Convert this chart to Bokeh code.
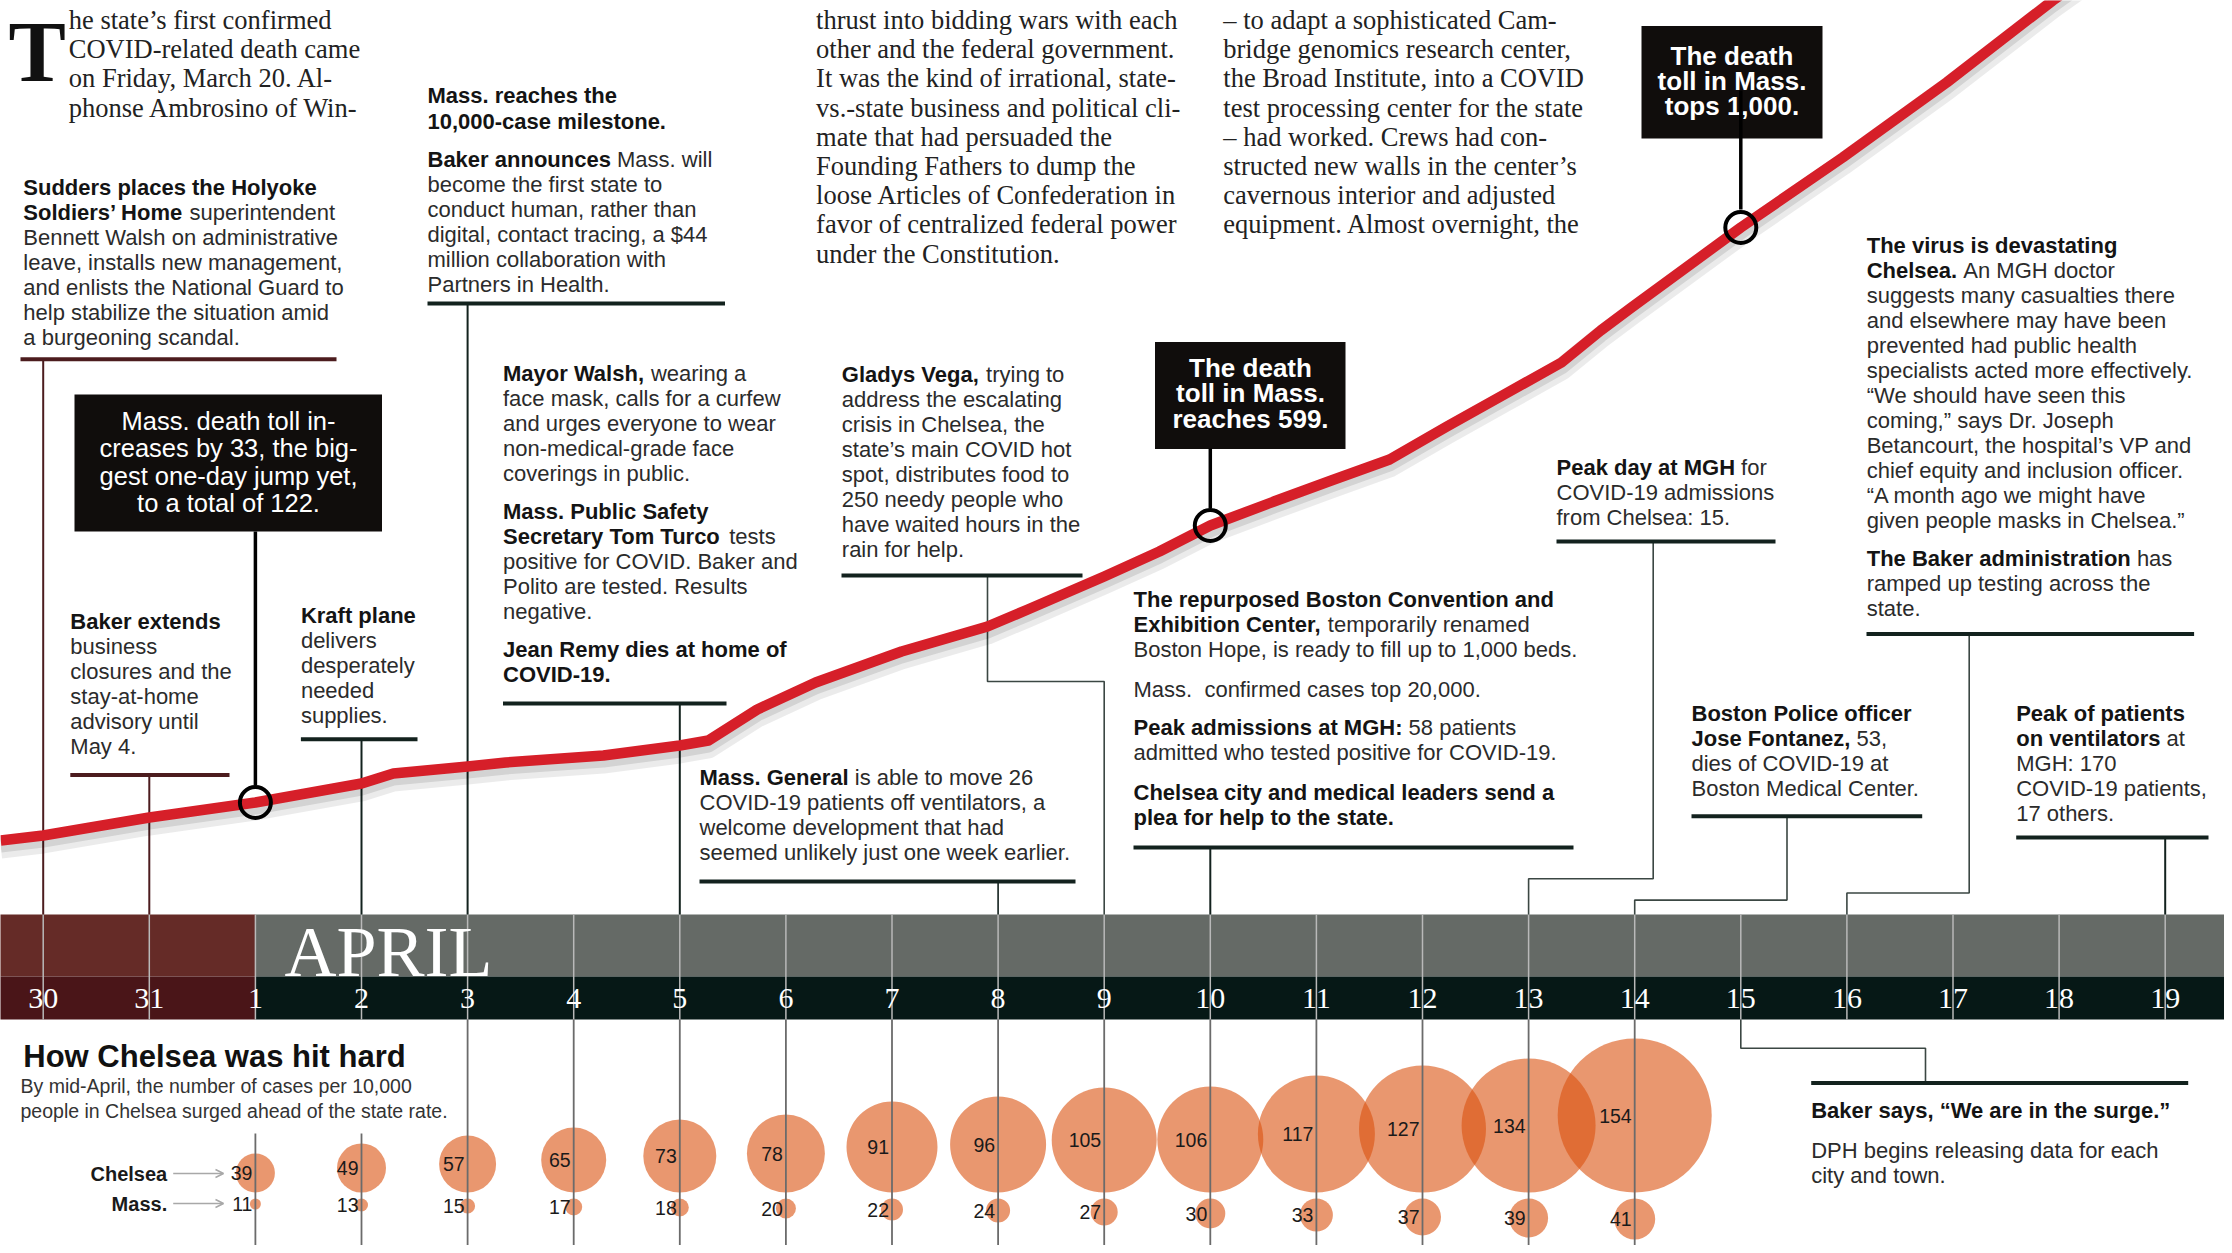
from collections import defaultdict
from bokeh.plotting import figure
from bokeh.models import Range1d, Arrow, OpenHead, ColumnDataSource
from bokeh.core.properties import value
from bokeh.embed import file_html
from bokeh.resources import INLINE

# ---------------- data ----------------
day_labels = ["30", "31"] + [str(i) for i in range(1, 20)]   # index 0 = March 30
day_index = list(range(len(day_labels)))
month_label = "APRIL"
april_start = 2

# red curve (Mass. toll trend): day index / height above the date band
line_day = [-0.4, 0, 1, 2, 3, 3.3, 4, 4.36, 5.28, 6, 6.27, 6.73, 7.28, 8.09, 8.9, 9.28, 10,
            10.52, 11, 11.6, 12.14, 12.69, 13.23, 13.77, 14.31, 14.68, 14.97, 16, 16.96,
            17.94, 18.94, 19.63]
line_level = [74, 79, 97, 112, 131, 141, 148, 152, 159, 169, 174, 205, 232, 263, 288, 305, 338,
              363, 389, 413, 434, 455, 488, 520, 552, 584, 607, 687, 757, 832, 914, 966]
milestone_day = [2, 11, 16]
milestone_level = [112, 389, 687]

# cases per 10,000 people, April 1 .. April 14
bubble_day = list(range(2, 16))
chelsea_rate = [39, 49, 57, 65, 73, 78, 91, 96, 105, 106, 117, 127, 134, 154]
mass_rate = [11, 13, 15, 17, 18, 20, 22, 24, 27, 30, 33, 37, 39, 41]

# ---------------- layout constants ----------------
X0, DX = 42.7, 106.1
def dpx(d):
    return X0 + DX * d

BAND_TOP, BAND_MID, BAND_BOT = 914, 976, 1019
CHELSEA_BASE, MASS_TOP = 1192, 1198
DARK = "#13221e"
MAROON = "#4c1c1e"
BODY = "#2b2b2b"
BOLDC = "#141414"
SANS = "Liberation Sans"
SERIF = "Liberation Serif"

W, H = 2224, 1245
p = figure(width=W, height=H, x_range=Range1d(0, W), y_range=Range1d(H, 0),
           x_axis_location=None, y_axis_location=None, toolbar_location=None,
           output_backend="svg", min_border=0, outline_line_color=None,
           background_fill_color="white", border_fill_color="white")
p.grid.visible = False
p.extra_x_ranges = {"day": Range1d((0 - X0) / DX, (W - X0) / DX)}
p.extra_y_ranges = {"level": Range1d(BAND_TOP - H, BAND_TOP)}

# ---------------- text helpers ----------------
BOLD_W = {' ': 278, '!': 333, '"': 474, '$': 556, '%': 889, '&': 722, "'": 238, '(': 333, ')': 333,
          ',': 278, '-': 333, '.': 278, '/': 278, ':': 333, ';': 333, '?': 611,
          'A': 722, 'B': 722, 'C': 722, 'D': 722, 'E': 667, 'F': 611, 'G': 778, 'H': 722, 'I': 278,
          'J': 556, 'K': 722, 'L': 611, 'M': 833, 'N': 722, 'O': 778, 'P': 667, 'Q': 778, 'R': 722,
          'S': 667, 'T': 611, 'U': 722, 'V': 667, 'W': 944, 'X': 667, 'Y': 667, 'Z': 611,
          'a': 556, 'b': 611, 'c': 556, 'd': 611, 'e': 556, 'f': 333, 'g': 611, 'h': 611, 'i': 278,
          'j': 278, 'k': 556, 'l': 278, 'm': 889, 'n': 611, 'o': 611, 'p': 611, 'q': 611, 'r': 389,
          's': 556, 't': 333, 'u': 611, 'v': 556, 'w': 778, 'x': 556, 'y': 556, 'z': 500,
          '\u2019': 278, '\u201c': 500, '\u201d': 500}

def bold_width(s, size):
    return sum(BOLD_W.get(c, 556) for c in s) * size / 1000.0

texts = defaultdict(lambda: {"x": [], "y": [], "text": []})

def add_text(x, y, s, size, bold=False, color=BODY, font=SANS, align="left", baseline="middle"):
    d = texts[(font, size, bold, color, align, baseline)]
    d["x"].append(x); d["y"].append(y); d["text"].append(s)

def add_block(x, y0, lines, step=25.0, size=22):
    for i, line in enumerate(lines):
        y = y0 + i * step
        if isinstance(line, str):
            line = [(line, 0)]
        cx = x
        for seg, b in line:
            lead = len(seg) - len(seg.lstrip(" "))
            cx += lead * 278 * size / 1000.0
            s = seg.strip(" ")
            add_text(cx, y, s, size, bool(b), BOLDC if b else BODY)
            cx += bold_width(s, size)

# ---------------- date band ----------------
p.quad(left=[-1, april_start], right=[april_start, 21], top=[BAND_TOP, BAND_TOP],
       bottom=[BAND_MID, BAND_MID], fill_color=["#652b27", "#656a66"], line_color=None,
       x_range_name="day")
p.quad(left=[-1, april_start], right=[april_start, 21], top=[BAND_MID, BAND_MID],
       bottom=[BAND_BOT, BAND_BOT], fill_color=["#4a1518", "#061816"], line_color=None,
       x_range_name="day")
p.segment(x0=day_index, x1=day_index, y0=[BAND_TOP] * len(day_index), y1=[BAND_BOT] * len(day_index),
          line_color="#b9b9b9", line_width=1.5, x_range_name="day")
p.text(x=[dpx(april_start) + 29], y=[951], text=[month_label], text_font=value(SERIF),
       text_font_size="72px", text_color="white", text_align="left", text_baseline="middle")
p.text(x=day_index, y=[998] * len(day_index), text=day_labels, text_font=value(SERIF),
       text_font_size="30px", text_color="white", text_align="center", text_baseline="middle",
       x_range_name="day")

# ---------------- connectors and rules ----------------
conn = [
    ([dpx(0), dpx(0)], [358.7, BAND_TOP], MAROON, 2),
    ([dpx(1), dpx(1)], [774.4, BAND_TOP], MAROON, 2),
    ([dpx(3), dpx(3)], [738.8, BAND_TOP], DARK, 2),
    ([dpx(4), dpx(4)], [303, BAND_TOP], DARK, 2),
    ([dpx(6), dpx(6)], [703, BAND_TOP], DARK, 2),
    ([dpx(9), dpx(9)], [881, BAND_TOP], DARK, 1.6),
    ([987, 987, dpx(10), dpx(10)], [575, 681, 681, BAND_TOP], "#3b4743", 1.6),
    ([dpx(11), dpx(11)], [847, BAND_TOP], DARK, 2),
    ([1652.7, 1652.7, dpx(14), dpx(14)], [541, 878.3, 878.3, BAND_TOP], "#3b4743", 1.6),
    ([1786.5, 1786.5, dpx(15), dpx(15)], [815.7, 899.6, 899.6, BAND_TOP], "#3b4743", 1.6),
    ([1968.7, 1968.7, dpx(17), dpx(17)], [633.5, 892.5, 892.5, BAND_TOP], "#3b4743", 1.6),
    ([dpx(20), dpx(20)], [837, BAND_TOP], DARK, 2),
    ([dpx(16), dpx(16), 1925, 1925], [BAND_BOT, 1047.7, 1047.7, 1082.5], "#3b4743", 1.6),
]
for xs, ys, c, w in conn:
    p.line(xs, ys, line_color=c, line_width=w)

rules = [
    (20, 336, 358.7, MAROON), (69.8, 229, 774.4, MAROON), (427, 724.5, 303, DARK),
    (300.4, 417, 738.8, DARK), (502.5, 726, 703, DARK), (841, 1082, 575, DARK),
    (699, 1075, 881, DARK), (1133, 1573, 847, DARK), (1556, 1775, 541, DARK),
    (1866, 2193.6, 633.5, DARK), (1691, 1921.7, 815.7, DARK), (2015.7, 2208, 837, DARK),
    (1810.7, 2187.7, 1082.5, DARK),
]
p.segment(x0=[r[0] for r in rules], x1=[r[1] for r in rules], y0=[r[2] for r in rules],
          y1=[r[2] for r in rules], line_color=[r[3] for r in rules], line_width=4)

# ---------------- red curve ----------------
p.line(line_day, [v - 7 for v in line_level], line_color="black", line_alpha=0.08, line_width=22,
       x_range_name="day", y_range_name="level", line_join="round")
p.line(line_day, [v - 5 for v in line_level], line_color="black", line_alpha=0.1, line_width=14,
       x_range_name="day", y_range_name="level", line_join="round")
p.line(line_day, line_level, line_color="#d61f29", line_width=10.5, x_range_name="day",
       y_range_name="level", line_join="round")
p.scatter(milestone_day, milestone_level, size=31, marker="circle", fill_color=None,
          line_color="black", line_width=4, x_range_name="day", y_range_name="level")

# ---------------- black boxes ----------------
boxes = [(74, 381.5, 394, 531), (1154.5, 1345, 341.6, 448.4), (1641, 1822, 25.6, 138)]
p.quad(left=[b[0] for b in boxes], right=[b[1] for b in boxes], top=[b[2] for b in boxes],
       bottom=[b[3] for b in boxes], fill_color="#100d0c", line_color=None)
p.line([dpx(2), dpx(2)], [531, 785], line_color="black", line_width=3.5)
p.line([dpx(11), dpx(11)], [448, 508], line_color="black", line_width=3.5)

for i, s in enumerate(["Mass. death toll in-", "creases by 33, the big-", "gest one-day jump yet,",
                       "to a total of 122."]):
    add_text(228, 420 + 27.5 * i, s, 25.5, False, "white", align="center")
for i, s in enumerate(["The death", "toll in Mass.", "reaches 599."]):
    add_text(1250, 367 + 25.5 * i, s, 26, True, "white", align="center")
for i, s in enumerate(["The death", "toll in Mass.", "tops 1,000."]):
    add_text(1731.5, 55.5 + 25 * i, s, 26, True, "white", align="center")

# ---------------- serif story columns ----------------
add_text(8, 51, "T", 86, True, "#111111", font=SERIF)
col1 = ["he state\u2019s first confirmed", "COVID-related death came", "on Friday, March 20. Al-",
        "phonse Ambrosino of Win-"]
col2 = ["thrust into bidding wars with each", "other and the federal government.",
        "It was the kind of irrational, state-", "vs.-state business and political cli-",
        "mate that had persuaded the", "Founding Fathers to dump the",
        "loose Articles of Confederation in", "favor of centralized federal power",
        "under the Constitution."]
col3 = ["\u2013 to adapt a sophisticated Cam-", "bridge genomics research center,",
        "the Broad Institute, into a COVID", "test processing center for the state",
        "\u2013 had worked. Crews had con-", "structed new walls in the center\u2019s",
        "cavernous interior and adjusted", "equipment. Almost overnight, the"]
for cx, col in [(68.3, col1), (815.6, col2), (1222.8, col3)]:
    for i, s in enumerate(col):
        add_text(cx, 19.5 + 29.2 * i, s, 26.5, False, "#222222", font=SERIF)

# ---------------- annotation blocks ----------------
add_block(22.8, 186.5, [[("Sudders places the Holyoke", 1)],
                        [("Soldiers\u2019 Home", 1), (" superintendent", 0)],
                        "Bennett Walsh on administrative", "leave, installs new management,",
                        "and enlists the National Guard to", "help stabilize the situation amid",
                        "a burgeoning scandal."])
add_block(427, 95.4, [[("Mass. reaches the", 1)], [("10,000-case milestone.", 1)]], step=25.6)
add_block(427, 159.4, [[("Baker announces", 1), (" Mass. will", 0)], "become the first state to",
                       "conduct human, rather than", "digital, contact tracing, a $44",
                       "million collaboration with", "Partners in Health."])
add_block(69.8, 620.6, [[("Baker extends", 1)], "business", "closures and the", "stay-at-home",
                        "advisory until", "May 4."])
add_block(300.4, 615, [[("Kraft plane", 1)], "delivers", "desperately", "needed", "supplies."])
add_block(502.5, 373, [[("Mayor Walsh,", 1), (" wearing a", 0)], "face mask, calls for a curfew",
                       "and urges everyone to wear", "non-medical-grade face", "coverings in public."])
add_block(502.5, 511, [[("Mass. Public Safety", 1)], [("Secretary Tom Turco", 1), (" tests", 0)],
                       "positive for COVID. Baker and", "Polito are tested. Results", "negative."])
add_block(502.5, 649, [[("Jean Remy dies at home of", 1)], [("COVID-19.", 1)]])
add_block(841.3, 374.4, [[("Gladys Vega,", 1), (" trying to", 0)], "address the escalating",
                         "crisis in Chelsea, the", "state\u2019s main COVID hot",
                         "spot, distributes food to", "250 needy people who",
                         "have waited hours in the", "rain for help."])
add_block(699, 777, [[("Mass. General", 1), (" is able to move 26", 0)],
                     "COVID-19 patients off ventilators, a", "welcome development that had",
                     "seemed unlikely just one week earlier."])
add_block(1133, 599.3, [[("The repurposed Boston Convention and", 1)],
                        [("Exhibition Center,", 1), (" temporarily renamed", 0)],
                        "Boston Hope, is ready to fill up to 1,000 beds."])
add_block(1133, 689, ["Mass.\u00a0 confirmed cases top 20,000."])
add_block(1133, 727.4, [[("Peak admissions at MGH:", 1), (" 58 patients", 0)],
                        "admitted who tested positive for COVID-19."])
add_block(1133, 791.5, [[("Chelsea city and medical leaders send a", 1)],
                        [("plea for help to the state.", 1)]])
add_block(1556, 467, [[("Peak day at MGH", 1), (" for", 0)], "COVID-19 admissions",
                      "from Chelsea: 15."])
add_block(1866.2, 244.8, [[("The virus is devastating", 1)],
                          [("Chelsea.", 1), (" An MGH doctor", 0)],
                          "suggests many casualties there", "and elsewhere may have been",
                          "prevented had public health", "specialists acted more effectively.",
                          "\u201cWe should have seen this", "coming,\u201d says Dr. Joseph",
                          "Betancourt, the hospital\u2019s VP and",
                          "chief equity and inclusion officer.", "\u201cA month ago we might have",
                          "given people masks in Chelsea.\u201d"])
add_block(1866.2, 558, [[("The Baker administration", 1), (" has", 0)],
                        "ramped up testing across the", "state."])
add_block(1691, 713.2, [[("Boston Police officer", 1)], [("Jose Fontanez,", 1), (" 53,", 0)],
                        "dies of COVID-19 at", "Boston Medical Center."])
add_block(2015.7, 713.2, [[("Peak of patients", 1)], [("on ventilators", 1), (" at", 0)],
                          "MGH: 170", "COVID-19 patients,", "17 others."])
add_block(1810.7, 1110, [[("Baker says, \u201cWe are in the surge.\u201d", 1)]])
add_block(1810.7, 1150, ["DPH begins releasing data for each", "city and town."])

# ---------------- Chelsea section ----------------
add_text(22.8, 1056, "How Chelsea was hit hard", 31, True, "#111111")
add_text(20, 1085, "By mid-April, the number of cases per 10,000", 19.5, False, "#333333")
add_text(20, 1110, "people in Chelsea surged ahead of the state rate.", 19.5, False, "#333333")
add_text(166.7, 1173, "Chelsea", 20, True, "#1a1a1a", align="right")
add_text(166.7, 1203, "Mass.", 20, True, "#1a1a1a", align="right")
for yy in (1173, 1203):
    p.add_layout(Arrow(end=OpenHead(size=8, line_color="#a8a8a8", line_width=1.5),
                       x_start=172.7, y_start=yy, x_end=223, y_end=yy,
                       line_color="#a8a8a8", line_width=1.5))

chelsea_y = [CHELSEA_BASE - v / 2 for v in chelsea_rate]
mass_y = [MASS_TOP + v / 2 for v in mass_rate]
p.scatter(bubble_day, chelsea_y, size=chelsea_rate, marker="circle", fill_color="#da520f",
          fill_alpha=0.6, line_color=None, x_range_name="day")
p.scatter(bubble_day, mass_y, size=mass_rate, marker="circle", fill_color="#da520f",
          fill_alpha=0.6, line_color=None, x_range_name="day")
line_top = [1133 if d < 4 else BAND_BOT for d in bubble_day]
p.segment(x0=bubble_day, x1=bubble_day, y0=line_top, y1=[H] * len(bubble_day),
          line_color="#6b6b6b", line_width=1.8, x_range_name="day")
p.text(x=bubble_day, y=chelsea_y, text=[str(v) for v in chelsea_rate], x_offset=-3,
       text_font=value(SANS), text_font_size="19.5px", text_color="#1a1a1a", text_align="right",
       text_baseline="middle", x_range_name="day")
p.text(x=bubble_day, y=mass_y, text=[str(v) for v in mass_rate], x_offset=-3,
       text_font=value(SANS), text_font_size="19.5px", text_color="#1a1a1a", text_align="right",
       text_baseline="middle", x_range_name="day")

# ---------------- render texts ----------------
for (font, size, bold, color, align, baseline), d in texts.items():
    p.text(x="x", y="y", text="text", source=ColumnDataSource(dict(d)), text_font=value(font),
           text_font_size=f"{size}px", text_font_style="bold" if bold else "normal",
           text_color=color, text_align=align, text_baseline=baseline)

# connector from the 1,000 box runs over its text
p.line([dpx(16), dpx(16)], [90, 209], line_color="black", line_width=3.5)

open("out.html", "w").write(file_html(p, INLINE))
